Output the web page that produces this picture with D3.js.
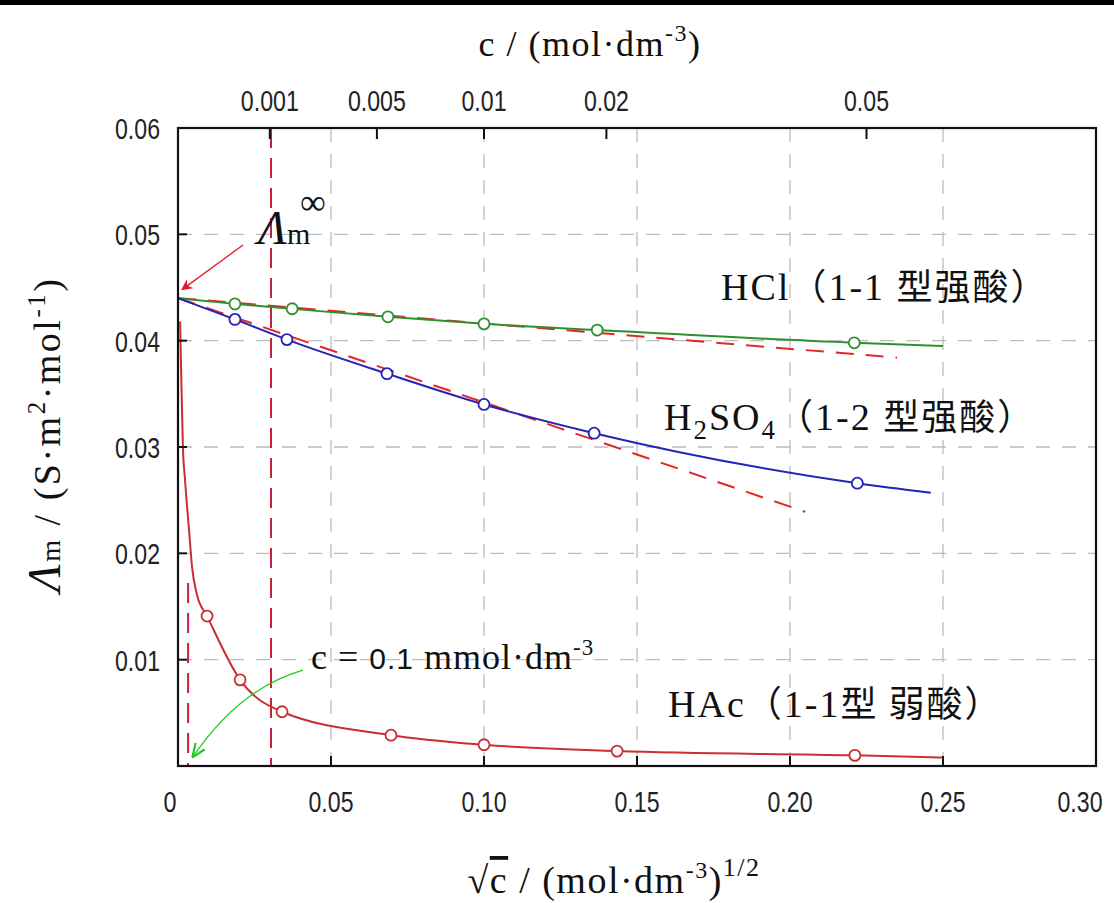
<!DOCTYPE html>
<html>
<head>
<meta charset="utf-8">
<script src="https://cdn.jsdelivr.net/npm/d3@7"></script>
<style>
  html, body { margin: 0; padding: 0; background: #fff; }
  svg { display: block; }
  .serif { font-family: 'Liberation Serif', 'DejaVu Serif', serif; }
  .narrow { font-family: 'Liberation Sans', 'DejaVu Sans', sans-serif; }
  .cjk { font-family: 'Noto Sans CJK SC', sans-serif; }
</style>
</head>
<body>
<div id="chart"></div>
<script>
// ── Data ────────────────────────────────────────────────────────────────────
const xTicks = [0, 0.05, 0.10, 0.15, 0.20, 0.25, 0.30];
const xTickLabels = ['0', '0.05', '0.10', '0.15', '0.20', '0.25', '0.30'];
const yTicks = [0.01, 0.02, 0.03, 0.04, 0.05, 0.06];
const yTickLabels = ['0.01', '0.02', '0.03', '0.04', '0.05', '0.06'];
const gridX = [0.05, 0.10, 0.15, 0.20, 0.25];
const gridY = [0.01, 0.02, 0.03, 0.04, 0.05];

// top axis: concentration c, placed at sqrt(c) as drawn in the figure
const topTickLabels = ['0.001', '0.005', '0.01', '0.02', '0.05'];
const topTickPos = [0.030, 0.065, 0.100, 0.140, 0.225];

// HCl (1-1 strong acid)
const hclX = [0, 0.0186, 0.0373, 0.0686, 0.100, 0.137, 0.221, 0.250];
const hclY = [0.0440, 0.04346, 0.0430, 0.04224, 0.04158, 0.0410, 0.0398, 0.0395];
const hclMarks = [1, 2, 3, 4, 5, 6];
const hclLimX = [0, 0.235];
const hclLimY = [0.0440, 0.0384];

// H2SO4 (1-2 strong acid)
const h2so4X = [0, 0.0186, 0.0356, 0.0683, 0.100, 0.136, 0.222, 0.246];
const h2so4Y = [0.0440, 0.0420, 0.0401, 0.0369, 0.0340, 0.0313, 0.0266, 0.0257];
const h2so4Marks = [1, 2, 3, 4, 5, 6];
const h2so4LimX = [0, 0.205];
const h2so4LimY = [0.0440, 0.0239];

// HAc (1-1 weak acid)
const hacX = [0.0007, 0.0010, 0.0016, 0.0023, 0.0036, 0.0046, 0.0062, 0.0095, 0.0203, 0.034, 0.0696, 0.100, 0.1435, 0.2212, 0.250];
const hacY = [0.0418, 0.0375, 0.0300, 0.0269, 0.0222, 0.0187, 0.0161, 0.0141, 0.0081, 0.0051, 0.0029, 0.0020, 0.0014, 0.0010, 0.0008];
const hacMarks = [7, 8, 9, 10, 11, 12, 13];

// vertical reference lines: c = 0.001 and c = 0.1 mmol/dm3
const refX = [0.0304, 0.0033];
const refTop = [0.06, 0.0172];

// ── Layout ──────────────────────────────────────────────────────────────────
const W = 1114, H = 903;
const margin = { top: 128, right: 18, bottom: 137, left: 178 };

const x = d3.scaleLinear().domain([0, 0.30]).range([margin.left, W - margin.right]);
const y = d3.scaleLinear().domain([0, 0.06]).range([H - margin.bottom, margin.top]);

const svg = d3.select('#chart').append('svg')
  .attr('width', W).attr('height', H)
  .attr('viewBox', `0 0 ${W} ${H}`);

svg.append('rect').attr('x', 0).attr('y', 0).attr('width', W).attr('height', H).attr('fill', '#fff');
svg.append('rect').attr('x', 0).attr('y', 0).attr('width', W).attr('height', 5).attr('fill', '#000');

const defs = svg.append('defs');
defs.append('marker')
  .attr('id', 'arrow-red')
  .attr('viewBox', '0 0 10 10').attr('refX', 9).attr('refY', 5)
  .attr('markerWidth', 11).attr('markerHeight', 11)
  .attr('orient', 'auto-start-reverse')
  .attr('markerUnits', 'userSpaceOnUse')
  .append('path').attr('d', 'M0,0 L10,5 L0,10 L3,5 Z').attr('fill', '#e01a2a');
defs.append('marker')
  .attr('id', 'arrow-green')
  .attr('viewBox', '0 0 10 10').attr('refX', 9).attr('refY', 5)
  .attr('markerWidth', 14).attr('markerHeight', 14)
  .attr('orient', 'auto')
  .attr('markerUnits', 'userSpaceOnUse')
  .append('path').attr('d', 'M0,1 L10,5 L0,9').attr('fill', 'none')
  .attr('stroke', '#22cc22').attr('stroke-width', 1.6);

// ── Grid ────────────────────────────────────────────────────────────────────
svg.append('g').selectAll('line').data(gridX).enter().append('line')
  .attr('x1', d => x(d)).attr('x2', d => x(d))
  .attr('y1', y(0.06)).attr('y2', y(0))
  .attr('stroke', '#bcbcbc').attr('stroke-width', 1.3)
  .attr('stroke-dasharray', '14 12');
svg.append('g').selectAll('line').data(gridY).enter().append('line')
  .attr('x1', x(0)).attr('x2', x(0.30))
  .attr('y1', d => y(d)).attr('y2', d => y(d))
  .attr('stroke', '#bcbcbc').attr('stroke-width', 1.3)
  .attr('stroke-dasharray', '14 12');

// ── Reference dashed lines ──────────────────────────────────────────────────
svg.append('g').selectAll('line').data(refX).enter().append('line')
  .attr('x1', d => x(d)).attr('x2', d => x(d))
  .attr('y1', (d, i) => y(refTop[i])).attr('y2', y(0))
  .attr('stroke', '#c81e3c').attr('stroke-width', 2)
  .attr('stroke-dasharray', '20 10');

const line = d3.line().x(d => x(d[0])).y(d => y(d[1]));
const smooth = d3.line().x(d => x(d[0])).y(d => y(d[1])).curve(d3.curveMonotoneX);
const zip = (xs, ys) => xs.map((v, i) => [v, ys[i]]);

// limiting (Kohlrausch) tangent lines
[[hclLimX, hclLimY], [h2so4LimX, h2so4LimY]].forEach(([xs, ys]) => {
  svg.append('path')
    .attr('d', line(zip(xs, ys)))
    .attr('fill', 'none').attr('stroke', '#e02828').attr('stroke-width', 2)
    .attr('stroke-dasharray', '18 12');
});

// ── Series ──────────────────────────────────────────────────────────────────
const series = [
  { xs: hclX, ys: hclY, marks: hclMarks, color: '#2f8f2f' },
  { xs: h2so4X, ys: h2so4Y, marks: h2so4Marks, color: '#2424b8' },
  { xs: hacX, ys: hacY, marks: hacMarks, color: '#c8302f' },
];

series.forEach(s => {
  const pts = zip(s.xs, s.ys);
  svg.append('path')
    .attr('d', smooth(pts))
    .attr('fill', 'none').attr('stroke', s.color).attr('stroke-width', 2);
  svg.append('g').selectAll('circle').data(s.marks.map(i => pts[i])).enter().append('circle')
    .attr('cx', d => x(d[0])).attr('cy', d => y(d[1])).attr('r', 5.5)
    .attr('fill', '#fff').attr('stroke', s.color).attr('stroke-width', 1.8);
});

// ── Frame and ticks ─────────────────────────────────────────────────────────
svg.append('rect')
  .attr('x', x(0)).attr('y', y(0.06))
  .attr('width', x(0.30) - x(0)).attr('height', y(0) - y(0.06))
  .attr('fill', 'none').attr('stroke', '#111').attr('stroke-width', 2.2);

svg.append('g').selectAll('line').data(yTicks.slice(0, -1)).enter().append('line')
  .attr('x1', x(0)).attr('x2', x(0) + 9)
  .attr('y1', d => y(d)).attr('y2', d => y(d))
  .attr('stroke', '#111').attr('stroke-width', 2);
svg.append('g').selectAll('line').data(xTicks.slice(1, -1)).enter().append('line')
  .attr('x1', d => x(d)).attr('x2', d => x(d))
  .attr('y1', y(0)).attr('y2', y(0) - 10)
  .attr('stroke', '#111').attr('stroke-width', 2);
svg.append('g').selectAll('line').data(topTickPos).enter().append('line')
  .attr('x1', d => x(d)).attr('x2', d => x(d))
  .attr('y1', y(0.06)).attr('y2', y(0.06) + 11)
  .attr('stroke', '#111').attr('stroke-width', 2);

// narrow tick labels: squeeze glyphs to the width they have in the figure
const narrowLen = s => s.replace(/\./g, '').length * 13 + (s.match(/\./g) || []).length * 6;
function tickText(sel) {
  sel.attr('class', 'narrow').attr('font-size', 29).attr('fill', '#222')
    .attr('lengthAdjust', 'spacingAndGlyphs')
    .attr('textLength', function () { return narrowLen(this.textContent); });
}

svg.append('g').selectAll('text').data(yTicks).enter().append('text')
  .attr('x', x(0) - 18).attr('y', d => y(d) + 11)
  .attr('text-anchor', 'end')
  .text((d, i) => yTickLabels[i])
  .call(tickText);
svg.append('g').selectAll('text').data(xTicks).enter().append('text')
  .attr('x', (d, i) => i === 0 ? x(d) - 8 : (i === xTicks.length - 1 ? x(d) - 16 : x(d))).attr('y', 812)
  .attr('text-anchor', 'middle')
  .text((d, i) => xTickLabels[i])
  .call(tickText);
svg.append('g').selectAll('text').data(topTickPos).enter().append('text')
  .attr('x', d => x(d)).attr('y', 111)
  .attr('text-anchor', 'middle')
  .text((d, i) => topTickLabels[i])
  .call(tickText);

// ── Axis titles ─────────────────────────────────────────────────────────────
const topTitle = svg.append('text').attr('class', 'serif')
  .attr('x', 590).attr('y', 56).attr('text-anchor', 'middle')
  .attr('font-size', 36).attr('letter-spacing', 1.5).attr('fill', '#111');
topTitle.append('tspan').text('c  /  (mol·dm');
topTitle.append('tspan').attr('dy', -15).attr('font-size', 24).text('-3');
topTitle.append('tspan').attr('dy', 15).text(')');

const xTitle = svg.append('text').attr('class', 'serif')
  .attr('x', 614).attr('y', 893).attr('text-anchor', 'middle')
  .attr('font-size', 38).attr('letter-spacing', 1.5).attr('fill', '#111');
xTitle.append('tspan').text('√');
xTitle.append('tspan').attr('text-decoration', 'overline').text('c');
xTitle.append('tspan').text('  /  (mol·dm');
xTitle.append('tspan').attr('dy', -15).attr('font-size', 24).text('-3');
xTitle.append('tspan').attr('dy', 15).text(')');
xTitle.append('tspan').attr('dy', -17).attr('font-size', 26).text('1/2');

const yTitle = svg.append('text').attr('class', 'serif')
  .attr('transform', 'translate(60,592) rotate(-90)')
  .attr('text-anchor', 'start').attr('fill', '#111').attr('font-size', 38)
  .attr('letter-spacing', 2.5);
yTitle.append('tspan').attr('font-style', 'italic').attr('font-size', 46).text('Λ');
yTitle.append('tspan').attr('font-size', 28).text('m');
yTitle.append('tspan').text(' / (S·m');
yTitle.append('tspan').attr('dy', -15).attr('font-size', 25).text('2');
yTitle.append('tspan').attr('dy', 15).text('·mol');
yTitle.append('tspan').attr('dy', -15).attr('font-size', 25).text('-1');
yTitle.append('tspan').attr('dy', 15).text(')');

// ── Annotations ─────────────────────────────────────────────────────────────
const lam = svg.append('text').attr('class', 'serif')
  .attr('x', 258).attr('y', 244).attr('fill', '#111');
lam.append('tspan').attr('font-style', 'italic').attr('font-size', 48).text('Λ');
lam.append('tspan').attr('font-size', 30).text('m');
svg.append('text').attr('class', 'serif')
  .attr('x', 300).attr('y', 214).attr('font-size', 36).attr('fill', '#111').text('∞');

svg.append('line')
  .attr('x1', 243).attr('y1', 245).attr('x2', x(0) + 4).attr('y2', y(0.0448))
  .attr('stroke', '#e01a2a').attr('stroke-width', 1.3)
  .attr('marker-end', 'url(#arrow-red)');

const cLabel = svg.append('text').attr('class', 'serif')
  .attr('x', 311).attr('y', 669).attr('font-size', 36).attr('letter-spacing', 1).attr('fill', '#111');
cLabel.append('tspan').text('c = ');
cLabel.append('tspan').attr('class', 'narrow').attr('font-size', 30).text('0.1');
cLabel.append('tspan').text(' mmol·dm');
cLabel.append('tspan').attr('dy', -14).attr('font-size', 23).text('-3');

svg.append('path')
  .attr('d', `M303,670 Q240,688 ${x(refX[1]) + 5},${y(0.0009)}`)
  .attr('fill', 'none').attr('stroke', '#22cc22').attr('stroke-width', 1.3)
  .attr('marker-end', 'url(#arrow-green)');

function seriesLabel(px, py, parts) {
  const t = svg.append('text').attr('x', px).attr('y', py).attr('font-size', 38)
    .attr('letter-spacing', 2).attr('fill', '#111');
  parts.forEach(p => {
    const s = t.append('tspan').attr('class', p.cls).text(p.text);
    if (p.size) s.attr('font-size', p.size);
    if (p.dy) s.attr('dy', p.dy);
  });
}
seriesLabel(721, 300, [
  { cls: 'serif', text: 'HCl' },
  { cls: 'cjk', text: '（', size: 36 },
  { cls: 'serif', text: '1-1 ' },
  { cls: 'cjk', text: '型强酸）', size: 36 },
]);
seriesLabel(664, 430, [
  { cls: 'serif', text: 'H' },
  { cls: 'serif', text: '2', size: 27, dy: 9 },
  { cls: 'serif', text: 'SO', dy: -9 },
  { cls: 'serif', text: '4', size: 27, dy: 9 },
  { cls: 'cjk', text: '（', size: 36, dy: -9 },
  { cls: 'serif', text: '1-2 ' },
  { cls: 'cjk', text: '型强酸）', size: 36 },
]);
seriesLabel(668, 717, [
  { cls: 'serif', text: 'HAc' },
  { cls: 'cjk', text: '（', size: 36 },
  { cls: 'serif', text: '1-1' },
  { cls: 'cjk', text: '型 弱酸）', size: 36 },
]);
</script>
</body>
</html>
